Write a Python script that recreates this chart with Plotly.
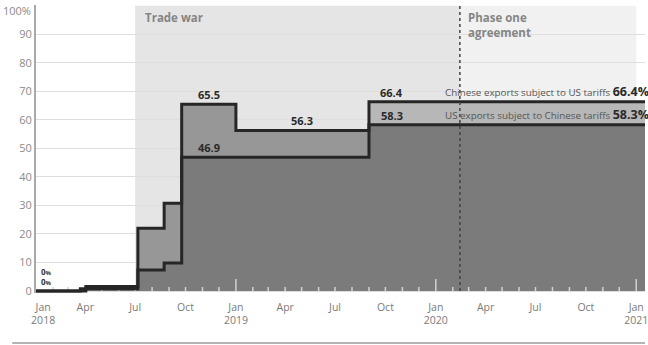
import numpy as np
import pandas as pd
import plotly.graph_objects as go

# ---- data ----
dates = ["2018-01-01", "2018-03-23", "2018-04-02", "2018-07-06", "2018-08-23",
         "2018-09-24", "2019-01-01", "2019-09-01", "2021-01-20"]
china_exports_covered = [0, 0.8, 0.8, 7.4, 9.8, 46.9, 46.9, 66.4, 66.4]
us_exports_covered = [0, 0, 1.6, 22.0, 30.8, 65.5, 56.3, 58.3, 58.3]

trade_war_start = "2018-07-01"
phase_one_date = "2020-02-14"
phase_one_end = "2021-01-01"

x_tick_vals = ["2018-01-14", "2018-04-01", "2018-07-01", "2018-10-01",
               "2019-01-01", "2019-04-01", "2019-07-01", "2019-10-01",
               "2020-01-01", "2020-04-01", "2020-07-01", "2020-10-01", "2021-01-01"]
x_tick_text = ["Jan<br>2018", "Apr", "Jul", "Oct", "Jan<br>2019", "Apr", "Jul", "Oct",
               "Jan<br>2020", "Apr", "Jul", "Oct", "Jan<br>2021"]
y_tick_vals = [0, 10, 20, 30, 40, 50, 60, 70, 80, 90, 100]
y_tick_text = ["0", "10", "20", "30", "40", "50", "60", "70", "80", "90", ""]

FONT = "Open Sans"
LINE = "#262626"
TICK = "#d2d2d2"
XR = ["2018-01-01", "2021-01-17"]

both_covered = np.minimum(china_exports_covered, us_exports_covered)

fig = go.Figure()
fig.add_trace(go.Scatter(x=dates, y=us_exports_covered, mode="lines", line=dict(width=0, shape="hv"),
                         fill="tozeroy", fillcolor="#979797", hoverinfo="skip", showlegend=False))
fig.add_trace(go.Scatter(x=dates, y=china_exports_covered, mode="lines", line=dict(width=0, shape="hv"),
                         fill="tozeroy", fillcolor="#b7b7b7", hoverinfo="skip", showlegend=False))
fig.add_trace(go.Scatter(x=dates, y=both_covered, mode="lines", line=dict(width=0, shape="hv"),
                         fill="tozeroy", fillcolor="#7b7b7b", hoverinfo="skip", showlegend=False))

# inside tick marks (monthly short, yearly long), drawn above fills and below lines
px_per_unit = 288 / 101.0
tx, ty = [], []
for d in pd.date_range("2018-02-01", "2021-01-01", freq="MS"):
    h = (12 if d.month == 1 else 4) / px_per_unit
    tx += [d, d, None]
    ty += [0, h, None]
fig.add_trace(go.Scatter(x=tx, y=ty, mode="lines", line=dict(color=TICK, width=1.5),
                         hoverinfo="skip", showlegend=False))

fig.add_trace(go.Scatter(x=dates, y=us_exports_covered, mode="lines",
                         line=dict(width=3, shape="hv", color=LINE), showlegend=False))
fig.add_trace(go.Scatter(x=dates, y=china_exports_covered, mode="lines",
                         line=dict(width=3, shape="hv", color=LINE), showlegend=False))

# shaded periods
fig.add_shape(type="rect", xref="x", yref="y", x0=trade_war_start, x1=phase_one_date, y0=0, y1=100,
              fillcolor="#e5e5e5", line=dict(width=0), layer="below")
fig.add_shape(type="rect", xref="x", yref="y", x0=phase_one_date, x1=phase_one_end, y0=0, y1=100,
              fillcolor="#f1f1f1", line=dict(width=0), layer="below")
fig.add_shape(type="line", xref="x", yref="y", x0=phase_one_date, x1=phase_one_date, y0=0, y1=100,
              line=dict(color="#444444", width=1.5, dash="3px,3px"), layer="above")
# bottom separator
fig.add_shape(type="line", xref="paper", yref="paper", x0=-0.039, x1=1, y0=-0.174, y1=-0.174,
              line=dict(color="#9a9a9a", width=1.5))

# period labels
fig.add_annotation(x=trade_war_start, y=1, xref="x", yref="paper", xanchor="left", yanchor="top",
                   xshift=8, yshift=-3, text="<b>Trade war</b>", showarrow=False,
                   font=dict(family=FONT, size=11.5, color="#858585"))
fig.add_annotation(x=phase_one_date, y=1, xref="x", yref="paper", xanchor="left", yanchor="top",
                   xshift=6, yshift=-3, text="<b>Phase one<br>agreement</b>", showarrow=False, align="left",
                   font=dict(family=FONT, size=11.5, color="#858585"))

# 100% label
fig.add_annotation(x=0, y=100, xref="paper", yref="y", xanchor="right", yanchor="middle",
                   xshift=-3, yshift=-5, text="100%", showarrow=False,
                   font=dict(family=FONT, size=11, color="#8a8a8a"))


def mid(a, b):
    ta, tb = pd.Timestamp(a), pd.Timestamp(b)
    return ta + (tb - ta) / 2


lab = dict(showarrow=False, yanchor="bottom", font=dict(family=FONT, size=11, color="#2a2a2a"))
fig.add_annotation(x=mid(dates[5], dates[6]), y=us_exports_covered[5], text="<b>%.1f</b>" % us_exports_covered[5], **lab)
fig.add_annotation(x=mid(dates[5], dates[6]), y=china_exports_covered[5], text="<b>%.1f</b>" % china_exports_covered[5], **lab)
fig.add_annotation(x=mid(dates[6], dates[7]), y=us_exports_covered[6], text="<b>%.1f</b>" % us_exports_covered[6], **lab)
late = pd.Timestamp(dates[7]) + pd.Timedelta(days=42)
fig.add_annotation(x=late, y=china_exports_covered[7], text="<b>%.1f</b>" % china_exports_covered[7], **lab)
fig.add_annotation(x=late, y=us_exports_covered[7], text="<b>%.1f</b>" % us_exports_covered[7], **lab)

fig.add_annotation(x=1, y=china_exports_covered[-1], xref="paper", yref="y", xanchor="right", yanchor="bottom",
                   xshift=6, showarrow=False,
                   text="Chinese exports subject to US tariffs <span style='font-size:12.5px;color:#2a2a2a'><b>%.1f%%</b></span>" % china_exports_covered[-1],
                   font=dict(family=FONT, size=9.8, color="#555555"))
fig.add_annotation(x=1, y=us_exports_covered[-1], xref="paper", yref="y", xanchor="right", yanchor="bottom",
                   xshift=6, showarrow=False,
                   text="US exports subject to Chinese tariffs <span style='font-size:12.5px;color:#2a2a2a'><b>%.1f%%</b></span>" % us_exports_covered[-1],
                   font=dict(family=FONT, size=9.8, color="#555555"))

# 0% labels at start
for ys in (20, 10):
    fig.add_annotation(x=dates[0], y=0, xanchor="left", yanchor="middle", xshift=3, yshift=ys,
                       text="<b>0<span style='font-size:6px'>%</span></b>", showarrow=False,
                       font=dict(family=FONT, size=8, color="#333333"))

fig.update_layout(
    width=648, height=345,
    margin=dict(l=36, r=0, t=5, b=52),
    paper_bgcolor="white", plot_bgcolor="white",
    font=dict(family=FONT),
    xaxis=dict(range=XR, type="date",
               tickmode="array", tickvals=x_tick_vals, ticktext=x_tick_text,
               ticks="", ticklabelstandoff=6, ticklabeloverflow="allow",
               showgrid=False, zeroline=False, showline=False,
               tickfont=dict(family=FONT, size=10.5, color="#7a7a7a")),
    yaxis=dict(range=[-0.7, 100.3], tickmode="array", tickvals=y_tick_vals, ticktext=y_tick_text,
               showgrid=True, gridcolor="#dedede", gridwidth=1, zeroline=False,
               showline=True, linecolor="#a8a8a8", linewidth=2, ticks="",
               tickfont=dict(family=FONT, size=11, color="#8a8a8a")),
)

fig.write_html("out.html")
